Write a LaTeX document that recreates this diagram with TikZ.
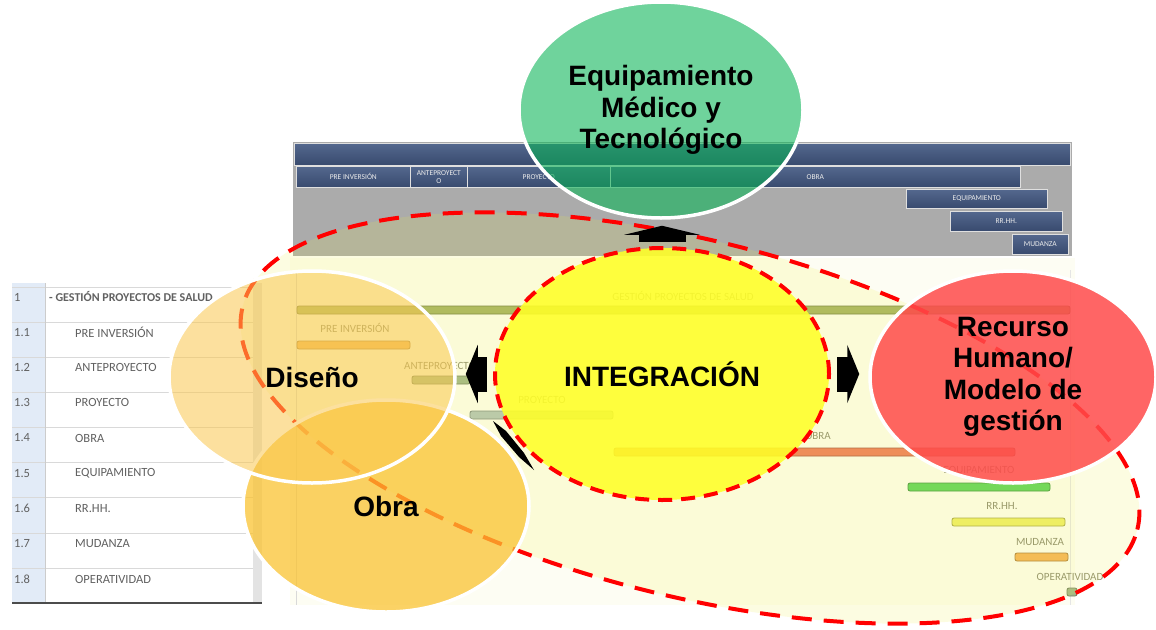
\documentclass[tikz,border=0pt]{standalone}
\usepackage{fontspec}
\setmainfont{Liberation Sans}
\newfontfamily\calib{Carlito}
\usetikzlibrary{shapes.geometric,arrows.meta}
\definecolor{verdeeq}{RGB}{8,180,85}
\definecolor{naranjad}{RGB}{250,200,80}
\definecolor{naranjao}{RGB}{250,195,50}
\definecolor{amarilloint}{RGB}{255,255,40}
\definecolor{rojorh}{RGB}{255,75,75}
\definecolor{zonafill}{RGB}{240,240,60}
\definecolor{hdrtop}{RGB}{84,104,142}
\definecolor{hdrbot}{RGB}{56,74,110}
\definecolor{tablablue}{RGB}{226,235,247}
\definecolor{chartbg}{RGB}{253,253,243}
\definecolor{olivo}{RGB}{165,178,100}
\definecolor{naranjab}{RGB}{245,180,90}
\definecolor{verdegris}{RGB}{160,182,140}
\definecolor{grisazul}{RGB}{178,196,188}
\definecolor{rojob}{RGB}{238,125,95}
\definecolor{verdeb}{RGB}{95,212,95}
\definecolor{amarillob}{RGB}{238,238,105}
\definecolor{etiqgris}{RGB}{140,140,115}
\tikzset{
  burbuja/.style={ellipse, draw=white, line width=3.5pt, minimum width=286, minimum height=212,
    inner sep=0pt, align=center, text opacity=1, font=\fontsize{28}{31.5}\selectfont\bfseries},
  flecha/.style={line width=35pt, -{Triangle[length=12pt,width=58pt]}},
  barra/.style={rounded corners=2pt, line width=0.8pt},
  etiq/.style={font=\calib\fontsize{11}{12}\selectfont, text=etiqgris, inner sep=0pt},
  celda/.style={draw=white!75!gray, line width=0.6pt, top color=hdrtop, bottom color=hdrbot,
    text=white!85!gray, font=\calib\fontsize{7.5}{8}\selectfont, inner sep=0pt, align=center, anchor=north west},
  fila/.style={font=\calib\fontsize{12.5}{14}\selectfont, text=black!62, anchor=west, inner sep=0pt},
}
\begin{document}
\begin{tikzpicture}[x=1pt,y=-1pt]
\useasboundingbox (0,0) rectangle (1156,629);
\fill[white] (0,0) rectangle (1156,629);

\fill[tablablue] (12,283) rectangle (45,603);
\fill[gray!22] (253,283) rectangle (262,603);
\foreach \k in {0,...,8} \draw[gray!30] (12,{287+35.1*\k}) -- (253,{287+35.1*\k});
\draw[gray!40] (45,283) -- (45,603);
\draw[black!70, line width=1.5pt] (12,603) -- (262,603);
\node[fila] (n0) at (14,297) {1};
\node[fila, font=\calib\bfseries\fontsize{12}{14}\selectfont] (t0) at (49,297) {- GESTIÓN PROYECTOS DE SALUD};
\foreach \num/\lab [count=\k] in {1.1/PRE INVERSIÓN,1.2/ANTEPROYECTO,1.3/PROYECTO,1.4/OBRA,
    1.5/EQUIPAMIENTO,1.6/RR.HH.,1.7/MUDANZA,1.8/OPERATIVIDAD}
{
  \node[fila] (n\k) at (14,{297+35.25*\k}) {\num};
  \node[fila] (t\k) at (75,{297+35.25*\k}) {\lab};
}

\fill[gray!66] (293,142) rectangle (1072,256);
\node[celda, minimum width=776, minimum height=22] (hgestion) at (294,143) {};
\node[celda, minimum width=114, minimum height=21] (hpre) at (296,166) {PRE INVERSIÓN};
\node[celda, minimum width=57, minimum height=21] (hante) at (410,166) {ANTEPROYECT\\O};
\node[celda, minimum width=143, minimum height=21] (hproy) at (467,166) {PROYECTO};
\node[celda, minimum width=410, minimum height=21] (hobra) at (610,166) {OBRA};
\node[celda, minimum width=141, minimum height=19] (hequi) at (906,189) {EQUIPAMIENTO};
\node[celda, minimum width=112, minimum height=20] (hrrhh) at (950,211) {RR.HH.};
\node[celda, minimum width=56, minimum height=20] (hmuda) at (1012,234) {MUDANZA};

\fill[chartbg] (290,258) rectangle (1075,605);
\draw[gray!30] (296,270) -- (296,605);
\draw[gray!20] (1070,270) -- (1070,605);
\foreach \xa/\xb/\yb/\col/\lab/\lx/\ly [count=\k] in {
    297/1070/306/olivo/GESTIÓN PROYECTOS DE SALUD/683/296,
    297/410/341/naranjab/PRE INVERSIÓN/355/328,
    412/470/376/verdegris/ANTEPROYECTO/440/366,
    470/613/411/grisazul/PROYECTO/542/400,
    614/1015/448/rojob/OBRA/818/436,
    908/1050/483/verdeb/EQUIPAMIENTO/979/471,
    952/1065/518/amarillob/RR.HH./1002/506,
    1015/1068/553/naranjab/MUDANZA/1040/542,
    1067/1077/588/verdegris/OPERATIVIDAD/1070/577}
{
  \draw[barra, draw=\col!70!black, fill=\col] (\xa,\yb) rectangle (\xb,\yb+8);
  \node[etiq] (g\k) at (\lx,\ly) {\lab};
}

\node[ellipse, minimum width=922, minimum height=356, rotate=-14, draw=red, line width=4pt,
  dash pattern=on 20pt off 12pt, fill=zonafill, fill opacity=0.15] (zona) at (690,418) {};

\node[burbuja, fill=verdeeq, fill opacity=0.58, minimum width=284, minimum height=216] (equipo) at (661,110) {Equipamiento\\Médico y\\Tecnológico};
\node[burbuja, fill=naranjao, fill opacity=0.75] (obra) at (386,506) {Obra};
\node[burbuja, fill=naranjad, fill opacity=0.55] (diseno) at (312,377) {Diseño};
\node[burbuja, fill=amarilloint, fill opacity=0.88, draw=red, line width=4pt, dash pattern=on 14pt off 9pt,
  minimum width=334, minimum height=252] (integ) at (662,374) {INTEGRACIÓN};
\node[burbuja, fill=rojorh, fill opacity=0.85] (recurso) at (1013,377) {Recurso\\Humano/\\Modelo de\\gestión};

\draw[flecha, shorten <=6pt, shorten >=9pt] (integ.west) -- (integ.west -| diseno.east);
\draw[flecha, shorten <=6pt, shorten >=9pt] (integ.east) -- (integ.east -| recurso.west);
\draw[flecha, line width=47pt, -{Triangle[length=9pt,width=75pt]}, shorten <=4pt, shorten >=6pt] (integ.north) -- (integ.north |- equipo.south);
\fill (493,421) -- (506,431) -- (524,453) -- (534,470) -- (519,457) -- (501,436) -- cycle;
\end{tikzpicture}
\end{document}
